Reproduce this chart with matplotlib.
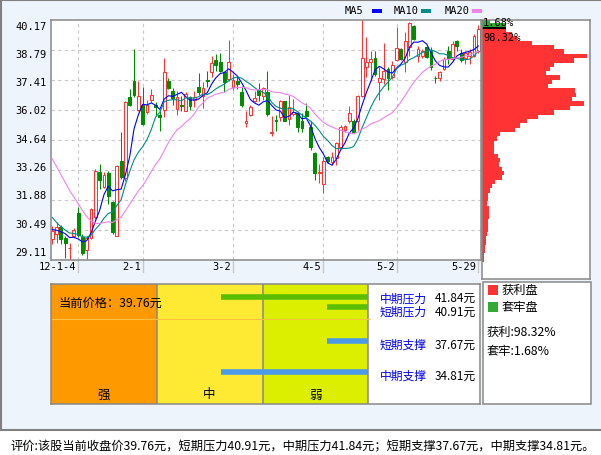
import numpy as np
import pandas as pd
import matplotlib
matplotlib.use('Agg')
import matplotlib.pyplot as plt
from matplotlib.patches import Rectangle
from matplotlib import transforms

plt.rcParams['font.family'] = ['Noto Sans CJK SC', 'DejaVu Sans']

# K线数据 (2011-12 末 ~ 2012-5-29)
opens = [30.06, 30.29, 30.60, 30.11, 29.63, 30.22, 31.25, 30.17, 29.57, 30.11,
         31.06, 33.14, 32.47, 33.09, 31.78, 30.22, 33.67, 32.87, 36.59, 37.33,
         36.01, 36.25, 35.90, 36.47, 36.25, 35.79, 36.01, 37.36, 36.90, 36.05,
         36.25, 35.98, 36.62, 36.47, 37.05, 36.67, 37.39, 37.74, 38.31, 38.20,
         37.74, 37.44, 37.08, 37.36, 36.82, 35.42, 35.79, 36.44, 36.93, 36.67,
         36.82, 34.96, 35.56, 35.70, 36.41, 35.59, 35.82, 35.85, 35.52, 35.98,
         35.24, 34.01, 33.10, 32.60, 33.83, 33.63, 33.80, 34.29, 35.10, 35.49,
         35.52, 35.52, 36.67, 38.00, 38.20, 38.40, 37.31, 37.44, 37.90, 37.51,
         38.31, 38.82, 38.20, 38.93, 39.89, 38.51, 38.51, 38.89, 38.74, 37.50,
         37.48, 37.90, 38.74, 38.36, 39.20, 38.62, 38.40, 38.51, 38.51, 38.71]
highs = [30.68, 30.83, 30.72, 30.22, 29.86, 30.57, 31.52, 30.29, 30.22, 31.48,
         33.29, 33.52, 33.14, 33.21, 31.83, 33.46, 34.98, 36.44, 36.97, 38.82,
         37.36, 37.08, 36.47, 36.97, 36.36, 35.98, 38.39, 37.47, 37.01, 36.90,
         36.67, 36.82, 36.67, 36.87, 37.70, 37.28, 37.82, 38.51, 38.59, 38.62,
         37.82, 39.23, 37.67, 37.59, 37.13, 35.95, 36.25, 36.87, 37.24, 37.05,
         37.79, 35.72, 35.79, 36.47, 36.44, 36.70, 36.51, 35.93, 35.85, 36.31,
         35.52, 34.06, 33.52, 33.83, 33.90, 34.06, 34.52, 35.33, 35.33, 36.21,
         35.59, 36.71, 40.15, 39.36, 38.74, 38.74, 37.97, 39.08, 37.97, 38.28,
         39.85, 38.86, 39.59, 40.05, 39.92, 38.97, 38.82, 38.93, 38.89, 37.59,
         37.79, 38.46, 38.97, 39.17, 39.23, 38.82, 38.74, 38.82, 39.51, 39.94]
lows = [29.83, 29.86, 29.83, 29.19, 29.11, 30.14, 30.14, 29.34, 29.14, 30.06,
        30.98, 32.37, 32.41, 31.68, 30.29, 30.20, 32.83, 32.75, 36.21, 36.62,
        35.98, 35.33, 35.82, 36.36, 35.75, 35.02, 35.70, 36.97, 36.25, 35.79,
        35.95, 35.95, 36.01, 36.16, 36.71, 36.10, 37.05, 37.51, 37.82, 37.74,
        36.82, 37.33, 36.93, 36.97, 36.13, 35.21, 35.75, 36.36, 36.44, 36.47,
        35.75, 34.83, 35.05, 35.49, 35.49, 35.33, 35.75, 35.01, 34.98, 35.67,
        34.18, 32.78, 32.63, 32.18, 33.57, 33.47, 33.49, 34.21, 34.98, 35.39,
        34.93, 35.09, 36.59, 37.51, 37.36, 37.59, 36.47, 37.21, 36.93, 37.44,
        38.25, 38.31, 37.74, 38.51, 39.25, 38.20, 38.40, 38.40, 37.85, 37.24,
        37.33, 37.85, 38.13, 38.28, 38.74, 38.20, 38.13, 38.13, 38.43, 38.62]
closes = [30.45, 30.63, 30.06, 29.86, 29.66, 30.49, 30.26, 29.40, 30.11, 31.43,
          33.18, 32.78, 33.03, 32.06, 30.37, 33.44, 32.93, 36.39, 36.25, 36.71,
          36.65, 35.36, 36.25, 36.71, 36.16, 35.70, 37.74, 37.02, 36.56, 36.62,
          36.18, 36.74, 36.21, 36.62, 36.82, 37.01, 37.36, 38.16, 38.10, 37.79,
          37.28, 38.20, 37.39, 37.21, 36.25, 35.52, 36.13, 36.55, 36.71, 37.01,
          35.82, 34.99, 35.52, 36.44, 35.52, 36.13, 35.93, 35.24, 35.18, 35.72,
          34.32, 33.09, 33.14, 33.64, 33.64, 33.83, 34.47, 35.24, 35.29, 35.87,
          34.98, 36.67, 38.40, 38.20, 38.36, 37.67, 37.47, 37.82, 37.48, 38.10,
          38.86, 38.36, 39.20, 40.00, 39.28, 38.82, 38.71, 38.43, 37.97, 37.47,
          37.74, 38.36, 38.40, 39.05, 38.94, 38.31, 38.63, 38.67, 39.43, 39.76]
# 图左边界之前的收盘价，仅用于均线起点
pre_close = [37.6, 37.4, 37.1, 36.9, 36.6, 36.3, 36.0, 35.7, 35.5, 35.3,
             33.0, 32.0, 31.4, 31.0, 30.7, 30.8, 30.4, 30.3, 30.55]

date_idx = [6, 21, 42, 63, 80, 99]
date_labels = ['12-1-4', '2-1', '3-2', '4-5', '5-2', '5-29']
price_ticks = [40.17, 38.79, 37.41, 36.02, 34.64, 33.26, 31.88, 30.49, 29.11]
ma_periods = [5, 10, 20]
ma_names = ['MA5', 'MA10', 'MA20']
ma_colors = ['#0000FF', '#008B8B', '#EE82EE']

# 筹码分布
chip_price = [40.1, 39.9, 39.7, 39.5, 39.3, 39.1, 38.9, 38.7, 38.5, 38.3,
              38.1, 37.9, 37.7, 37.5, 37.3, 37.1, 36.9, 36.7, 36.5, 36.3,
              36.1, 35.9, 35.7, 35.5, 35.3, 35.1, 34.9, 34.7, 34.5, 34.3,
              34.1, 33.9, 33.7, 33.5, 33.3, 33.1, 32.9, 32.7, 32.5, 32.3,
              32.1, 31.9, 31.7, 31.5, 31.3, 31.1, 30.9, 30.7, 30.5, 30.3,
              30.1, 29.9, 29.7, 29.5, 29.3, 29.1]
chip_vol = [8, 24, 24, 30, 35, 50, 72, 82, 105, 92,
            72, 68, 64, 78, 70, 66, 93, 94, 90, 102,
            88, 72, 56, 45, 38, 33, 18, 15, 12, 12,
            12, 16, 18, 17, 20, 22, 20, 13, 10, 8,
            6, 6, 5, 7, 7, 7, 6, 6, 6, 5,
            4, 4, 3.5, 3, 2.5, 2]
profit_pct = 98.32
trapped_pct = 1.68
current_price = 39.76

# 压力支撑
level_names = ['中期压力', '短期压力', '短期支撑', '中期支撑']
level_values = [41.84, 40.91, 37.67, 34.81]
zone_names = ['强', '中', '弱']
zone_colors = ['#FF9900', '#FFEA33', '#DCEF00']

W, H = 601, 456
UP, DOWN = '#FF3333', '#008C00'
GRID = '#C8C8C8'
EDGE = '#888888'
MONO = 'DejaVu Sans Mono'


def px_rect(x0, y0, x1, y1):
    return [x0 / W, (H - y1) / H, (x1 - x0) / W, (y1 - y0) / H]


fig = plt.figure(figsize=(W / 100, H / 100), dpi=100)
fig.patch.set_facecolor('white')

# 背景框
bg = fig.add_axes([0, 0, 1, 1], zorder=0)
bg.set_xlim(0, W)
bg.set_ylim(H, 0)
bg.axis('off')
bg.add_patch(Rectangle((1, 1), 640, 430, facecolor='#EEF4FC', edgecolor='#808080', lw=1.5))

# 均线图例
for name, col, x0 in zip(ma_names, ma_colors, [345, 394, 445]):
    bg.text(x0, 11, name, family=MONO, fontsize=7.5, va='center', ha='left')
    bg.add_patch(Rectangle((x0 + 26.5, 10), 10, 4, facecolor=col, edgecolor='none'))

# 主K线图
ax = fig.add_axes(px_rect(51, 20.7, 480.5, 260.7), zorder=1)
ax.set_xlim(-0.3, 99.5)
ax.set_ylim(price_ticks[-1], price_ticks[0])
ax.set_xticks([])
ax.set_yticks([])
for s in ax.spines.values():
    s.set_color(EDGE)
    s.set_linewidth(1.1)
for p in price_ticks[1:-1]:
    ax.axhline(p, color=GRID, lw=0.8, ls=(0, (3, 3)), zorder=0)
for i in date_idx[:-1]:
    ax.axvline(i, color=GRID, lw=0.8, ls=(0, (3, 3)), zorder=0)

bw = 0.65
for i in range(len(closes)):
    o, h, l, c = opens[i], highs[i], lows[i], closes[i]
    if c >= o:
        ax.vlines(i, c, h, color=UP, lw=0.75)
        ax.vlines(i, l, o, color=UP, lw=0.75)
        ax.add_patch(Rectangle((i - bw / 2, o), bw, c - o, facecolor='white', edgecolor=UP, lw=0.75))
    else:
        ax.vlines(i, l, h, color=DOWN, lw=0.75)
        ax.add_patch(Rectangle((i - bw / 2, c), bw, o - c, facecolor=DOWN, edgecolor=DOWN, lw=0.75))

all_close = pd.Series(pre_close + closes)
xs = np.arange(len(closes))
for p, col in zip(ma_periods, ma_colors):
    ma = all_close.rolling(p).mean().to_numpy()[len(pre_close):]
    ax.plot(xs, ma, color=col, lw=0.8, zorder=5)

# 纵轴标签
lab_frac = np.linspace(0.975, 0.033, len(price_ticks))
for p, f in zip(price_ticks, lab_frac):
    ax.text(-0.01, f, f'{p:.2f}', transform=ax.transAxes, family=MONO, fontsize=7.5,
            ha='right', va='center')

# 日期标签
xt = transforms.offset_copy(ax.get_xaxis_transform(), fig=fig, x=-2, y=0, units='dots')
for i, lab in zip(date_idx, date_labels):
    ax.plot([i, i], [0, -0.05], transform=ax.get_xaxis_transform(), color=GRID, lw=1, clip_on=False)
    ax.text(i, -0.028, lab, transform=xt, family=MONO, fontsize=7.5, ha='right', va='center')

# 筹码分布
axc = fig.add_axes(px_rect(481.5, 20.7, 590, 280), zorder=1)
axc.set_xlim(0, 108.5)
axc.set_ylim(40.17 - (280 - 20.7) * (40.17 - 29.11) / 240, 40.17)
axc.set_xticks([])
axc.set_yticks([])
for s in axc.spines.values():
    s.set_color(EDGE)
    s.set_linewidth(1.1)
chip_cols = ['#33AA33' if pr > current_price else UP for pr in chip_price]
axc.barh(chip_price, chip_vol, height=0.205, color=chip_cols, lw=0)
axc.hlines(current_price + 0.03, 0, chip_vol[2], color='black', lw=1.5)
axc.text(0.014, 0.99, f'{trapped_pct:.2f}%', transform=axc.transAxes, family=MONO,
         fontsize=7.5, va='center')
axc.text(0.014, 0.935, f'{profit_pct:.2f}%', transform=axc.transAxes, family=MONO,
         fontsize=7.5, va='center')

# 压力支撑面板
axl = fig.add_axes(px_rect(50.5, 285.3, 480, 405.3), zorder=1)
axl.set_xlim(0, 429.5)
axl.set_ylim(31.75, 43.0)
axl.set_xticks([])
axl.set_yticks([])
for s in axl.spines.values():
    s.set_color(EDGE)
    s.set_linewidth(1.1)
zone_x = [0, 106, 212, 317.5]
for k, (zn, zc) in enumerate(zip(zone_names, zone_colors)):
    axl.axvspan(zone_x[k], zone_x[k + 1], color=zc, lw=0)
    axl.axvline(zone_x[k + 1], color=EDGE, lw=1.1)
    axl.text((zone_x[k] + zone_x[k + 1]) / 2, 0.086, zn, transform=axl.get_xaxis_transform(),
             fontsize=9, ha='center', va='center')
axl.hlines(current_price, 0, 319.5, color='#FFC040', lw=0.8)
axl.text(8.5, 0.85, f'当前价格：{current_price}元', transform=axl.get_xaxis_transform(),
         fontsize=8.8, va='center')
bar_start = [170.5, 276, 276, 170.5]
text_shift = [-0.1, -0.4, -0.28, -0.3]
for name, v, x0, dy in zip(level_names, level_values, bar_start, text_shift):
    col = '#5BBD00' if '压力' in name else '#4A9AE8'
    axl.hlines(v, x0, 317.5, color=col, lw=4)
    axl.text(329.5, v + dy, name, color='#0000EE', fontsize=8.5, va='center')
    axl.text(384.5, v + dy, f'{v:.2f}元', fontsize=8.5, va='center')

# 图例框
bg.add_patch(Rectangle((482.7, 283), 108, 122.3, facecolor='white', edgecolor=EDGE, lw=1.1))
bg.add_patch(Rectangle((487.5, 285.5), 10.5, 10.5, facecolor=UP, edgecolor='none'))
bg.text(502, 290.7, '获利盘', fontsize=8.8, va='center')
bg.add_patch(Rectangle((487.5, 302.7), 10.5, 10.5, facecolor='#33AA33', edgecolor='none'))
bg.text(502, 308, '套牢盘', fontsize=8.8, va='center')
bg.text(487, 332, f'获利:{profit_pct:.2f}%', fontsize=8.8, va='center')
bg.text(487, 352, f'套牢:{trapped_pct:.2f}%', fontsize=8.8, va='center')

# 评价
bg.text(10, 447, f'评价:该股当前收盘价{current_price}元，短期压力{level_values[1]}元，'
                 f'中期压力{level_values[0]}元；短期支撑{level_values[2]}元，中期支撑{level_values[3]}元。',
        fontsize=8.8, va='center')

fig.savefig('out.png', dpi=100)
